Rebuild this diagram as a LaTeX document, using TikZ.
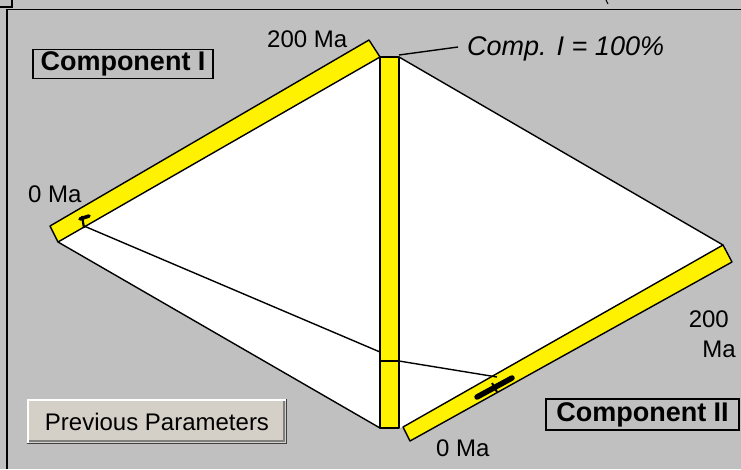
\documentclass[tikz,border=0pt]{standalone}
\usepackage{fontspec}
\setmainfont{Liberation Sans}
\definecolor{bgc}{HTML}{C0C0C0}
\definecolor{btnc}{HTML}{D4D0C8}
\definecolor{btnd}{HTML}{404040}
\definecolor{btnm}{HTML}{808080}
\begin{document}
\begin{tikzpicture}[x=1pt,y=-1pt,
  bar/.style={fill=yellow,draw=black,line width=1.4pt,line join=round},
  conn/.style={draw=black,line width=1.4pt},
  lbl/.style={inner sep=0pt,font=\fontsize{24}{28}\selectfont},
  comp/.style={draw=black,line width=1.6pt,inner sep=0pt,font=\fontsize{27}{30}\selectfont\bfseries},
  frame/.style={draw=black,line width=1.6pt}
]
\useasboundingbox (0,0) rectangle (741,469);
\fill[bgc] (0,0) rectangle (741,469);
% window frame
\draw[frame] (7,469) -- (7,9.5) -- (741,9.5);
\draw[frame] (0,7) -- (12,7) -- (12,0);
\draw[black,line width=1pt] (606,0) -- (608,4);
% corner coordinates
\coordinate (LA) at (50,226);
\coordinate (LB) at (369,40);
\coordinate (LC) at (380,57);
\coordinate (LD) at (58,242);
\coordinate (V1) at (380,57);
\coordinate (V2) at (399,57);
\coordinate (V3) at (399,428);
\coordinate (V4) at (380,428);
\coordinate (RA) at (403,427);
\coordinate (RB) at (723,245);
\coordinate (RC) at (732,262);
\coordinate (RD) at (410,441);
% white field
\fill[white] (LD) -- (LC) -- (V2) -- (RB) -- (RA) -- (V3) -- (V4) -- cycle;
\draw[conn] (LD) -- (V4);
\draw[conn] (V2) -- (RB);
% bars
\draw[bar] (LA) -- (LB) -- (LC) -- (LD) -- cycle;
\draw[bar] (V1) -- (V2) -- (V3) -- (V4) -- cycle;
\draw[bar] (RA) -- (RB) -- (RC) -- (RD) -- cycle;
% mixing lines
\coordinate (M1) at (84,226);
\coordinate (VL) at (380,352);
\coordinate (VM1) at (380,361);
\coordinate (VM2) at (399,361);
\coordinate (M2) at (497,377);
\draw[conn] (M1) -- (VL);
\draw[conn] (VM1) -- (VM2);
\draw[conn] (VM2) -- (M2);
% markers
\coordinate (K1) at (82,216);
\coordinate (K2) at (84,228);
\coordinate (K3) at (80,219);
\coordinate (K4) at (89,216);
\draw[black,line width=2.2pt] (K1) -- (K2);
\draw[black,line width=3.5pt,line cap=round] (K3) -- (K4);
\coordinate (P1) at (477,397);
\coordinate (P2) at (512,378);
\coordinate (P3) at (492,383);
\coordinate (P4) at (497,392);
\draw[black,line width=5.5pt,line cap=round] (P1) -- (P2);
\draw[black,line width=2pt] (P3) -- (P4);
% leader
\coordinate (T1) at (399,55);
\coordinate (T2) at (458,47);
\draw[conn] (T1) -- (T2);
% labels
\node[lbl,anchor=base west] (l200a) at (267,47) {200 Ma};
\node[lbl,anchor=base west] (l0a) at (28,202) {0 Ma};
\node[lbl,anchor=base west,font=\fontsize{27}{30}\selectfont\itshape] (lcomp) at (467,55) {Comp. I = 100\%};
\node[lbl,anchor=base east] (l200b) at (729,327) {200};
\node[lbl,anchor=base east] (lmab) at (736,357) {Ma};
\node[lbl,anchor=base west] (l0b) at (436,456) {0 Ma};
% component boxes
\node[comp,minimum width=180pt,minimum height=29pt] (c1) at (123,64) {Component I};
\node[comp,minimum width=193pt,minimum height=31pt] (c2) at (642.5,414.5) {Component II};
% button
\fill[btnc] (27,399) rectangle (287,444);
\draw[white,line width=1.5pt] (27.75,444) -- (27.75,399.75) -- (287,399.75);
\draw[btnd,line width=1.5pt] (27,443.25) -- (286.25,443.25) -- (286.25,399);
\draw[btnm,line width=1.2pt] (29,441) -- (284,441) -- (284,401);
\node[lbl] (btn) at (157,421.5) {Previous Parameters};
\end{tikzpicture}
\end{document}
